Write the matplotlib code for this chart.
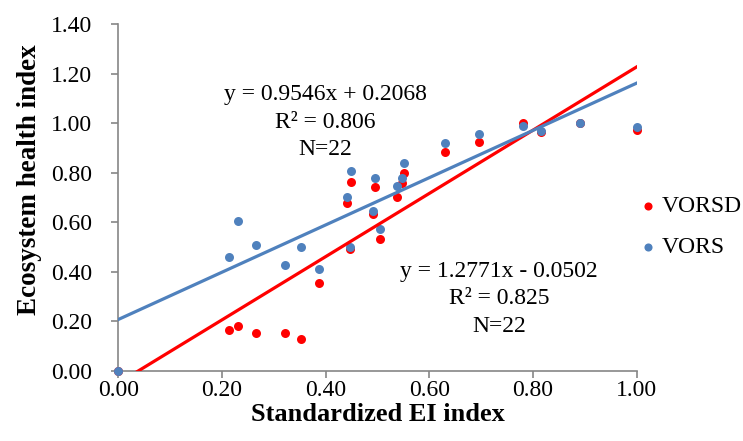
import numpy as np
import matplotlib
matplotlib.use('Agg')
import matplotlib.pyplot as plt
from matplotlib.ticker import FormatStrFormatter

plt.rcParams['font.family'] = ['Liberation Serif', 'DejaVu Serif']

# standardized EI index (same x for both series)
ei = [0.000, 0.214, 0.230, 0.266, 0.321, 0.353, 0.388, 0.441, 0.449, 0.447, 0.496,
      0.492, 0.505, 0.538, 0.547, 0.552, 0.630, 0.695, 0.781, 0.816, 0.891, 1.000]
vorsd = [0.000, 0.163, 0.180, 0.152, 0.152, 0.130, 0.355, 0.679, 0.763, 0.493, 0.741,
         0.634, 0.533, 0.703, 0.757, 0.797, 0.884, 0.924, 1.002, 0.963, 0.999, 0.972]
vors = [0.000, 0.458, 0.603, 0.508, 0.426, 0.498, 0.410, 0.700, 0.805, 0.501, 0.777,
        0.645, 0.573, 0.746, 0.779, 0.838, 0.918, 0.955, 0.990, 0.968, 0.999, 0.985]

# trendline coefficients shown on chart
fit_vorsd = (1.2771, -0.0502)
fit_vors = (0.9546, 0.2068)

red = '#FF0000'
blue = '#4F81BD'
grey = '#868686'

fig = plt.figure(figsize=(7.43, 4.41), dpi=100)
ax = fig.add_axes([0.1592, 0.1594, 0.6978, 0.7862])

ax.scatter(ei, vorsd, s=42, color=red, zorder=3, clip_on=False, label='VORSD', linewidths=0)
ax.scatter(ei, vors, s=42, color=blue, zorder=4, clip_on=False, label='VORS', linewidths=0)

xx = np.array([0.0, 1.0])
ax.plot(xx, fit_vorsd[0] * xx + fit_vorsd[1], color=red, lw=2.3, zorder=5)
ax.plot(xx, fit_vors[0] * xx + fit_vors[1], color=blue, lw=2.3, zorder=6)

ax.set_xlim(0, 1)
ax.set_ylim(0, 1.4)
ax.set_xticks(np.arange(0, 1.01, 0.2))
ax.set_yticks(np.arange(0, 1.41, 0.2))
ax.xaxis.set_major_formatter(FormatStrFormatter('%.2f'))
ax.yaxis.set_major_formatter(FormatStrFormatter('%.2f'))
ax.tick_params(labelsize=17, color=grey, length=5, width=1.2)
ax.tick_params(axis='x', pad=2)
ax.tick_params(axis='y', pad=14)

for s in ['top', 'right']:
    ax.spines[s].set_visible(False)
for s in ['left', 'bottom']:
    ax.spines[s].set_color(grey)
    ax.spines[s].set_linewidth(1.2)

ax.set_xlabel('Standardized EI index', fontsize=19, fontweight='bold')
ax.xaxis.set_label_coords(0.5, -0.092)
ax.set_ylabel('Ecosystem health index', fontsize=19.5, fontweight='bold')
ax.yaxis.set_label_coords(-0.147, 0.55)

ax.text(0.399, 1.004, 'y = 0.9546x + 0.2068\nR² = 0.806\nN=22', ha='center', va='center',
        fontsize=17, linespacing=1.4, zorder=7)
ax.text(0.734, 0.29, 'y = 1.2771x - 0.0502\nR² = 0.825\nN=22', ha='center', va='center',
        fontsize=17, linespacing=1.4, zorder=7)

fig.legend(*ax.get_legend_handles_labels(), loc='center left',
           bbox_to_anchor=(641.2 / 743, 1 - 226.8 / 441), frameon=False, fontsize=17,
           markerscale=0.9, handlelength=0.6, handletextpad=0.25, labelspacing=0.8,
           borderpad=0, borderaxespad=0)

fig.savefig('out.png', dpi=100)
